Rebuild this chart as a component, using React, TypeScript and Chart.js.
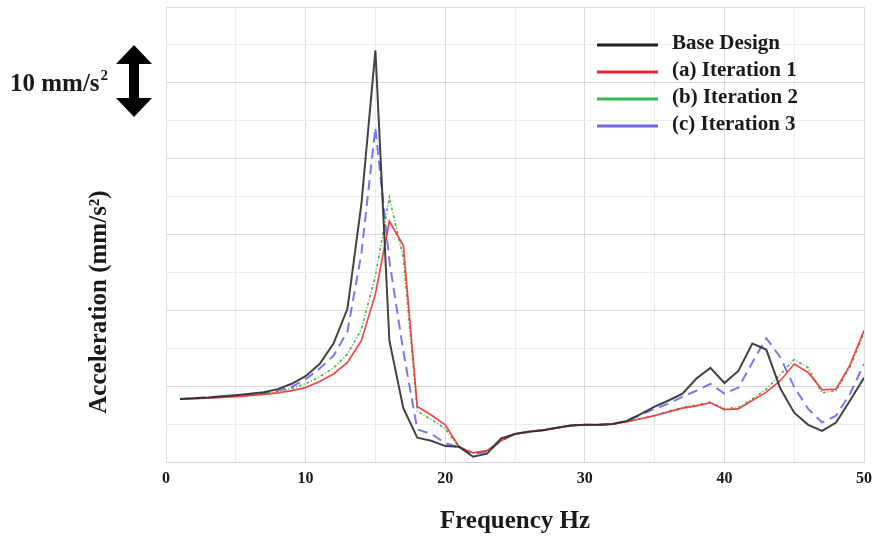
import React, { useEffect, useRef } from "react";
import { Chart, registerables } from "chart.js";

Chart.register(...registerables);

const frequencies = [
  1, 2, 3, 4, 5, 6, 7, 8, 9, 10, 11, 12, 13, 14, 15, 16, 17, 18, 19, 20, 21, 22, 23, 24, 25,
  26, 27, 28, 29, 30, 31, 32, 33, 34, 35, 36, 37, 38, 39, 40, 41, 42, 43, 44, 45, 46, 47, 48, 49, 50,
];

const baseDesign = [
  8.4, 8.5, 8.6, 8.75, 8.9, 9.1, 9.3, 9.7, 10.4, 11.4, 13.0, 15.7, 20.3, 34.1, 54.3, 16.1, 7.2, 3.3, 2.9, 2.2,
  2.1, 0.8, 1.2, 3.2, 3.8, 4.1, 4.3, 4.6, 4.9, 5.0, 5.0, 5.1, 5.5, 6.4, 7.4, 8.2, 9.1, 11.1, 12.5, 10.5,
  12.1, 15.7, 14.9, 9.8, 6.6, 5.0, 4.2, 5.3, 8.2, 11.2,
];

const iteration1 = [
  8.4, 8.45, 8.5, 8.6, 8.7, 8.85, 9.0, 9.2, 9.5, 9.9, 10.7, 11.7, 13.2, 16.1, 22.2, 31.8, 28.6, 7.4, 6.3, 5.0,
  2.1, 1.3, 1.6, 2.9, 3.8, 4.1, 4.3, 4.6, 4.9, 5.0, 5.0, 5.1, 5.4, 5.8, 6.2, 6.7, 7.2, 7.5, 7.9, 7.0,
  7.1, 8.2, 9.3, 10.8, 13.0, 11.9, 9.6, 9.7, 12.9, 17.4,
];

const iteration2 = [
  8.4, 8.45, 8.55, 8.65, 8.8, 8.95, 9.15, 9.4, 9.8, 10.4, 11.3, 12.5, 14.3, 17.6, 24.6, 34.9, 27.0, 6.8, 5.7, 4.5,
  2.0, 1.3, 1.6, 2.9, 3.8, 4.1, 4.3, 4.6, 4.9, 5.0, 5.0, 5.1, 5.4, 5.8, 6.2, 6.8, 7.3, 7.6, 8.0, 7.1,
  7.3, 8.4, 9.7, 11.6, 13.6, 12.5, 9.2, 9.5, 12.6, 17.1,
];

const iteration3 = [
  8.4, 8.5, 8.6, 8.7, 8.85, 9.0, 9.2, 9.5, 10.0, 11.0, 12.4, 14.1, 17.3, 27.6, 44.1, 26.6, 14.7, 4.4, 3.8, 2.6,
  2.0, 1.2, 1.4, 2.9, 3.8, 4.1, 4.3, 4.6, 4.9, 5.0, 5.0, 5.1, 5.5, 6.3, 7.1, 7.8, 8.7, 9.5, 10.4, 9.1,
  9.9, 13.2, 16.4, 13.9, 10.0, 7.1, 5.3, 6.2, 9.1, 13.0,
];

const seriesLabels = ["Base Design", "(a) Iteration 1", "(b) Iteration 2", "(c) Iteration 3"];
const lineColors = ["rgba(45,45,45,0.9)", "rgba(240,50,50,0.9)", "rgba(70,165,70,0.9)", "rgba(85,85,245,0.8)"];
const legendColors = ["#222222", "#ee2233", "#33bb55", "#6b6bdf"];

const xTicks = [0, 10, 20, 30, 40, 50];
const FONT = '"Liberation Serif", "Times New Roman", serif';
const TEXT = "#1a1a1a";

const overlayPlugin = {
  id: "overlay",
  afterDraw(chart: any) {
    const ctx = chart.ctx as CanvasRenderingContext2D;
    const area = chart.chartArea;

    // y-axis title
    ctx.save();
    ctx.translate(100, 302);
    ctx.rotate(-Math.PI / 2);
    ctx.font = `bold 25px ${FONT}`;
    ctx.fillStyle = TEXT;
    ctx.textAlign = "center";
    ctx.textBaseline = "middle";
    ctx.fillText("Acceleration (mm/s²)", 0, 0);
    ctx.restore();

    // scale bar label "10 mm/s²"
    ctx.save();
    ctx.fillStyle = TEXT;
    ctx.textBaseline = "alphabetic";
    ctx.textAlign = "left";
    ctx.font = `bold 25px ${FONT}`;
    const main = "10 mm/s";
    ctx.fillText(main, 10, 91);
    const w = ctx.measureText(main).width;
    ctx.font = `bold 15px ${FONT}`;
    ctx.fillText("2", 10 + w + 1, 80);
    ctx.restore();

    // double-headed arrow
    ctx.save();
    ctx.fillStyle = "#000";
    const cx = 134;
    const top = 45;
    const bot = 117;
    const hw = 18;
    const hh = 19;
    const sw = 5;
    ctx.beginPath();
    ctx.moveTo(cx, top);
    ctx.lineTo(cx + hw, top + hh);
    ctx.lineTo(cx + sw, top + hh);
    ctx.lineTo(cx + sw, bot - hh);
    ctx.lineTo(cx + hw, bot - hh);
    ctx.lineTo(cx, bot);
    ctx.lineTo(cx - hw, bot - hh);
    ctx.lineTo(cx - sw, bot - hh);
    ctx.lineTo(cx - sw, top + hh);
    ctx.lineTo(cx - hw, top + hh);
    ctx.closePath();
    ctx.fill();
    ctx.restore();

    // legend
    ctx.save();
    const lx0 = area.left + 431;
    const lx1 = lx0 + 61;
    const ly0 = area.top + 37;
    const step = 27;
    ctx.font = `bold 21px ${FONT}`;
    ctx.textAlign = "left";
    ctx.textBaseline = "middle";
    seriesLabels.forEach((label, i) => {
      const y = ly0 + i * step;
      ctx.strokeStyle = legendColors[i];
      ctx.lineWidth = 3;
      ctx.setLineDash([]);
      ctx.beginPath();
      ctx.moveTo(lx0, y + 1);
      ctx.lineTo(lx1, y + 1);
      ctx.stroke();
      ctx.fillStyle = TEXT;
      ctx.fillText(label, lx1 + 14, y);
    });
    ctx.restore();
  },
};

export default function App() {
  const canvasRef = useRef<HTMLCanvasElement | null>(null);

  useEffect(() => {
    document.body.style.margin = "0";
    const canvas = canvasRef.current;
    if (!canvas) return;

    const series = [baseDesign, iteration1, iteration2, iteration3];
    const dashes = [[], [], [3, 2, 1, 2], [10, 6]];
    const widths = [2, 1.7, 1.6, 2];

    const chart = new Chart(canvas, {
      type: "line",
      data: {
        datasets: series.map((vals, i) => ({
          label: seriesLabels[i],
          data: frequencies.map((f, k) => ({ x: f, y: vals[k] })),
          borderColor: lineColors[i],
          borderWidth: widths[i],
          borderDash: dashes[i],
          pointRadius: 0,
          tension: 0,
          fill: false,
        })),
      },
      options: {
        animation: false,
        responsive: true,
        maintainAspectRatio: false,
        layout: { padding: { left: 166, right: 27, top: 7, bottom: 0 } },
        plugins: {
          legend: { display: false },
          tooltip: { enabled: false },
        },
        scales: {
          x: {
            type: "linear",
            min: 0,
            max: 50,
            afterBuildTicks: (scale: any) => {
              const t = [];
              for (let v = 0; v <= 50; v += 5) t.push({ value: v });
              scale.ticks = t;
            },
            ticks: {
              autoSkip: false,
              maxRotation: 0,
              padding: 6,
              color: TEXT,
              font: { family: FONT, size: 16, weight: "bold" },
              callback: (v: any) => (xTicks.includes(Number(v)) ? String(v) : ""),
            },
            grid: {
              drawTicks: false,
              color: (c: any) => (c.tick && c.tick.value % 10 === 0 ? "#d9d9d9" : "#ededed"),
            },
            border: { display: true, color: "#d2d2d2" },
            title: {
              display: true,
              text: "Frequency Hz",
              color: TEXT,
              font: { family: FONT, size: 25, weight: "bold" },
              padding: { top: 13, bottom: 4 },
            },
          },
          y: {
            min: 0,
            max: 60,
            ticks: { display: false, stepSize: 5 },
            grid: {
              drawTicks: false,
              color: (c: any) => (c.tick && c.tick.value % 10 === 0 ? "#d9d9d9" : "#ededed"),
            },
            border: { display: true, color: "#e0e0e0" },
          },
        },
      },
      plugins: [overlayPlugin],
    });

    return () => chart.destroy();
  }, []);

  return (
    <div style={{ position: "relative", width: 891, height: 541 }}>
      <canvas ref={canvasRef} />
    </div>
  );
}
